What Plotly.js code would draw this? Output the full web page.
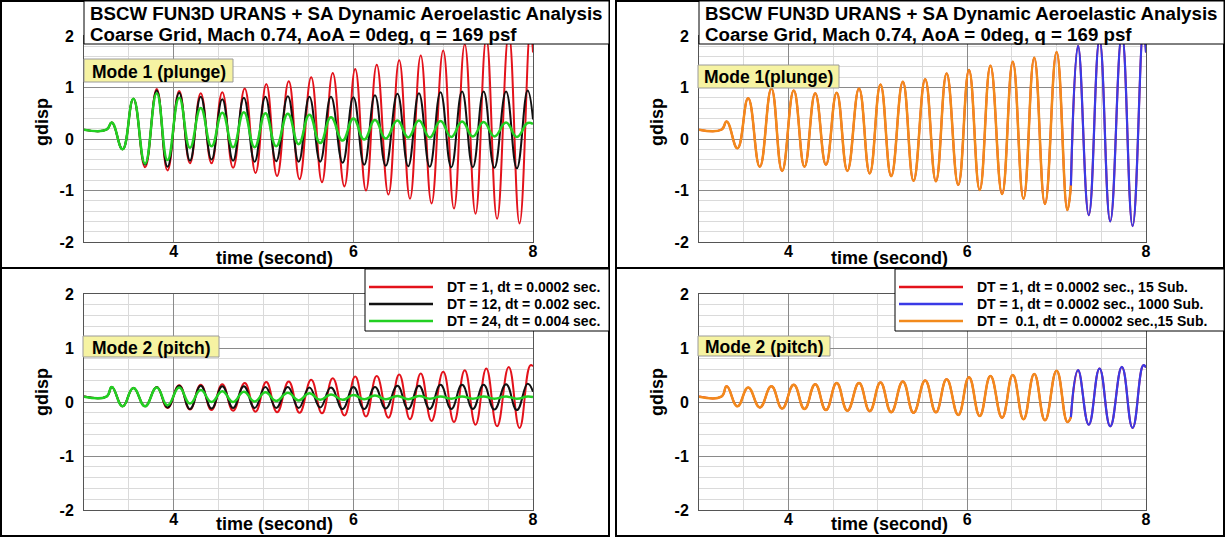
<!DOCTYPE html>
<html>
<head>
<meta charset="utf-8">
<script src="https://cdn.plot.ly/plotly-3.0.1.min.js"></script>
<style>html,body{margin:0;padding:0;background:#fff;}#chart{width:1225px;height:537px;}</style>
</head>
<body>
<div id="chart"></div>
<script>
// ---------- data (extrema of each signal) ----------
const titleLine1 = 'BSCW FUN3D URANS + SA Dynamic Aeroelastic Analysis';
const titleLine2 = 'Coarse Grid, Mach 0.74, AoA = 0deg, q = 169 psf';
const modeLabelsLeft = ['Mode 1 (plunge)', 'Mode 2 (pitch)'];
const modeLabelsRight = ['Mode 1(plunge)', 'Mode 2 (pitch)'];
const xTitle = 'time (second)';
const yTitle = 'gdisp';
const xTickVals = [4, 6, 8];
const xTickText = ['4', '6', '8'];
const yTickVals = [-2, -1, 0, 1, 2];
const yTickText = ['-2', '-1', '0', '1', '2'];
const namesLeft = ['DT = 1, dt = 0.0002 sec.', 'DT = 12, dt = 0.002 sec.', 'DT = 24, dt = 0.004 sec.'];
const namesRight = ['DT = 1, dt = 0.0002 sec., 15 Sub.', 'DT = 1, dt = 0.0002 sec., 1000 Sub.', 'DT =\u00a0\u00a00.1, dt = 0.00002 sec.,15 Sub.'];

const tRed = [3.00, 3.25, 3.31, 3.43, 3.55, 3.68, 3.81, 3.93, 4.06, 4.18, 4.30, 4.42, 4.54, 4.66, 4.79, 4.91, 5.03, 5.15, 5.28, 5.40, 5.53, 5.65, 5.77, 5.90, 6.02, 6.14, 6.26, 6.39, 6.51, 6.63, 6.75, 6.87, 7.00, 7.12, 7.24, 7.36, 7.48, 7.60, 7.73, 7.85, 7.97, 8.00];
const tBlack = [3.00, 3.25, 3.31, 3.43, 3.55, 3.68, 3.81, 3.93, 4.06, 4.18, 4.30, 4.42, 4.54, 4.66, 4.78, 4.90, 5.02, 5.14, 5.27, 5.39, 5.51, 5.63, 5.75, 5.88, 6.00, 6.12, 6.24, 6.36, 6.49, 6.61, 6.73, 6.85, 6.97, 7.09, 7.21, 7.33, 7.45, 7.57, 7.70, 7.82, 7.94, 8.00];
const tOrange = [3.00, 3.25, 3.31, 3.43, 3.55, 3.68, 3.81, 3.93, 4.06, 4.18, 4.30, 4.42, 4.54, 4.66, 4.79, 4.91, 5.03, 5.15, 5.28, 5.40, 5.53, 5.65, 5.77, 5.90, 6.02, 6.14, 6.26, 6.39, 6.51, 6.63, 6.75, 6.87, 7.00, 7.12, 7.16];
const tBlue = [7.16, 7.24, 7.36, 7.48, 7.60, 7.73, 7.85, 7.97, 8.00];

const redPlunge = [0.18, 0.18, 0.32, -0.20, 0.78, -0.55, 0.97, -0.61, 0.93, -0.47, 0.89, -0.47, 0.91, -0.56, 0.98, -0.66, 1.07, -0.72, 1.12, -0.78, 1.20, -0.84, 1.28, -0.92, 1.36, -1.00, 1.44, -1.08, 1.53, -1.16, 1.62, -1.25, 1.72, -1.35, 1.84, -1.45, 1.95, -1.55, 2.05, -1.64, 2.15, 1.68];
const blackPlunge = [0.18, 0.18, 0.32, -0.20, 0.78, -0.50, 0.94, -0.54, 0.90, -0.42, 0.82, -0.40, 0.77, -0.42, 0.80, -0.44, 0.82, -0.43, 0.83, -0.44, 0.82, -0.44, 0.82, -0.46, 0.81, -0.50, 0.85, -0.52, 0.88, -0.53, 0.89, -0.54, 0.91, -0.55, 0.92, -0.55, 0.92, -0.56, 0.92, -0.57, 0.94, 0.38];
const greenPlunge = [0.18, 0.18, 0.32, -0.20, 0.78, -0.48, 0.89, -0.41, 0.80, -0.17, 0.60, -0.14, 0.51, -0.16, 0.52, -0.16, 0.50, -0.14, 0.49, -0.10, 0.47, -0.08, 0.42, -0.03, 0.40, -0.01, 0.37, 0.01, 0.36, 0.03, 0.36, 0.03, 0.35, 0.04, 0.34, 0.05, 0.33, 0.05, 0.32, 0.04, 0.31, 0.29];
const orangePlunge = [0.18, 0.18, 0.34, -0.18, 0.79, -0.54, 0.98, -0.62, 0.94, -0.54, 0.89, -0.50, 0.90, -0.62, 0.98, -0.67, 1.06, -0.72, 1.11, -0.81, 1.16, -0.82, 1.27, -0.89, 1.34, -0.99, 1.42, -1.07, 1.50, -1.16, 1.58, -1.26, 1.69, -1.38, -0.90];
const bluePlunge = [-0.90, 1.81, -1.48, 1.93, -1.60, 2.03, -1.69, 2.13, 1.68];

const redPitch = [0.10, 0.10, 0.28, -0.08, 0.26, -0.08, 0.28, -0.11, 0.31, -0.14, 0.32, -0.15, 0.33, -0.16, 0.35, -0.18, 0.37, -0.19, 0.38, -0.20, 0.41, -0.21, 0.44, -0.25, 0.47, -0.27, 0.48, -0.29, 0.51, -0.32, 0.53, -0.35, 0.56, -0.37, 0.59, -0.42, 0.62, -0.45, 0.65, -0.48, 0.68, 0.66];
const blackPitch = [0.10, 0.10, 0.28, -0.08, 0.26, -0.08, 0.28, -0.10, 0.30, -0.13, 0.30, -0.12, 0.29, -0.11, 0.29, -0.11, 0.28, -0.11, 0.28, -0.11, 0.27, -0.10, 0.27, -0.13, 0.28, -0.13, 0.28, -0.12, 0.30, -0.13, 0.30, -0.13, 0.32, -0.13, 0.32, -0.13, 0.32, -0.14, 0.33, -0.15, 0.34, 0.19];
const greenPitch = [0.10, 0.10, 0.28, -0.08, 0.26, -0.08, 0.27, -0.06, 0.27, -0.03, 0.22, 0.00, 0.20, 0.00, 0.19, 0.01, 0.18, 0.02, 0.17, 0.03, 0.16, 0.04, 0.14, 0.04, 0.13, 0.05, 0.12, 0.05, 0.11, 0.05, 0.11, 0.06, 0.10, 0.06, 0.10, 0.06, 0.10, 0.06, 0.10, 0.06, 0.10, 0.09];
const orangePitch = [0.10, 0.10, 0.29, -0.08, 0.27, -0.10, 0.29, -0.12, 0.32, -0.13, 0.33, -0.15, 0.35, -0.16, 0.35, -0.17, 0.36, -0.19, 0.38, -0.20, 0.40, -0.19, 0.42, -0.24, 0.46, -0.26, 0.48, -0.29, 0.50, -0.32, 0.52, -0.34, 0.58, -0.37, -0.28];
const bluePitch = [-0.28, 0.59, -0.42, 0.62, -0.45, 0.65, -0.48, 0.68, 0.64];

// ---------- styling ----------
const W = 1225, H = 537;
const F = 'Liberation Sans, Arial, Helvetica, sans-serif';
const C = {red: '#e3121b', black: '#111111', green: '#22d022', orange: '#f28a1c', blue: '#3a3ae6'};
const px = v => v / W;
const py = v => 1 - v / H;

function line(x, y, xa, ya, color, width) {
  return {x: x, y: y, xaxis: xa, yaxis: ya, type: 'scatter', mode: 'lines',
    line: {color: color, width: width, shape: 'spline', smoothing: 1.3},
    hoverinfo: 'skip', showlegend: false};
}
const traces = [
  line(tRed, redPlunge, 'x', 'y', C.red, 2),
  line(tBlack, blackPlunge, 'x', 'y', C.black, 2),
  line(tBlack, greenPlunge, 'x', 'y', C.green, 2.5),
  line(tRed, redPitch, 'x2', 'y2', C.red, 2),
  line(tBlack, blackPitch, 'x2', 'y2', C.black, 2),
  line(tBlack, greenPitch, 'x2', 'y2', C.green, 2.5),
  line(tOrange.concat(tBlue), orangePlunge.concat(bluePlunge), 'x3', 'y3', C.red, 2),
  line(tOrange, orangePlunge, 'x3', 'y3', C.orange, 2.5),
  line(tBlue, bluePlunge, 'x3', 'y3', C.blue, 2.2),
  line(tOrange.concat(tBlue), orangePitch.concat(bluePitch), 'x4', 'y4', C.red, 2),
  line(tOrange, orangePitch, 'x4', 'y4', C.orange, 2.5),
  line(tBlue, bluePitch, 'x4', 'y4', C.blue, 2.2)
];

const tickFont = {family: F, size: 16, color: '#000', weight: 'bold'};
function xAx(d0, d1, anchor) {
  return {domain: [px(d0), px(d1)], anchor: anchor, range: [3, 8], tickmode: 'array',
    tickvals: xTickVals, ticktext: xTickText, showgrid: true, gridcolor: '#8a8a8a', gridwidth: 1,
    minor: {tickmode: 'linear', tick0: 0, dtick: 0.5, showgrid: true, gridcolor: '#dadada', gridwidth: 1},
    zeroline: false, showline: true, mirror: true, linecolor: '#555', linewidth: 1,
    ticks: '', ticklabelstandoff: -5, tickfont: tickFont, fixedrange: true};
}
function yAx(top, bottom, anchor) {
  return {domain: [py(bottom), py(top)], anchor: anchor, range: [-2, 2], tickmode: 'array',
    tickvals: yTickVals, ticktext: yTickText, showgrid: true, gridcolor: '#8a8a8a', gridwidth: 1,
    minor: {tickmode: 'linear', tick0: 0, dtick: 0.2, showgrid: true, gridcolor: '#dadada', gridwidth: 1},
    zeroline: false, showline: true, mirror: true, linecolor: '#555', linewidth: 1,
    ticks: 'outside', ticklen: 6, tickcolor: 'rgba(0,0,0,0)', tickfont: tickFont, fixedrange: true};
}

const shapes = [];
const annotations = [];
function rect(x0, y0, x1, y1, fill, lineColor, lw, layer) {
  shapes.push({type: 'rect', xref: 'paper', yref: 'paper', x0: px(x0), x1: px(x1), y0: py(y1), y1: py(y0),
    fillcolor: fill, line: {color: lineColor, width: lw}, layer: layer || 'above'});
}
function seg(x0, y0, x1, y1, color, lw) {
  shapes.push({type: 'line', xref: 'paper', yref: 'paper', x0: px(x0), x1: px(x1), y0: py(y0), y1: py(y1),
    line: {color: color, width: lw}, layer: 'above'});
}
function txt(text, x, y, size, xanchor, angle) {
  annotations.push({xref: 'paper', yref: 'paper', x: px(x), y: py(y), text: '<b>' + text + '</b>',
    showarrow: false, xanchor: xanchor || 'center', yanchor: 'middle', textangle: angle || 0,
    font: {family: F, size: size, color: '#000'}});
}

// panel frames
rect(1, 1, 609, 268, 'rgba(0,0,0,0)', '#000', 2, 'above');
rect(1, 268, 609, 536, 'rgba(0,0,0,0)', '#000', 2, 'above');
rect(616, 1, 1224, 268, 'rgba(0,0,0,0)', '#000', 2, 'above');
rect(616, 268, 1224, 536, 'rgba(0,0,0,0)', '#000', 2, 'above');

const panels = [
  {left: 84, right: 609, names: namesLeft, colors: [C.red, C.black, C.green], legX: 365, lineX0: 369, lineX1: 433, textX: 445, modes: modeLabelsLeft,
   modeBoxes: [[84, 59, 233, 82], [83, 336, 219, 357]]},
  {left: 699, right: 1224, names: namesRight, colors: [C.red, C.blue, C.orange], legX: 895, lineX0: 899, lineX1: 963, textX: 975, modes: modeLabelsRight,
   modeBoxes: [[698, 65, 839, 88], [698, 336, 830, 356]]}
];
panels.forEach(p => {
  rect(p.left, 1, p.right, 44, '#ffffff', '#000', 1);
  txt(titleLine1, p.left + 4, 14, 18.7, 'left');
  txt(titleLine2, p.left + 4, 34, 18.7, 'left');
  p.modeBoxes.forEach((b, i) => {
    rect(b[0], b[1], b[2], b[3], '#f6f3a2', '#9a9a9a', 1);
    txt(p.modes[i], (b[0] + b[2]) / 2, (b[1] + b[3]) / 2 + 1, 17.5, 'center');
  });
  txt(xTitle, p.left + 190, 258, 18, 'center');
  txt(xTitle, p.left + 190, 524, 18, 'center');
  txt(yTitle, p.left - 42, 122, 18, 'center', -90);
  txt(yTitle, p.left - 42, 392, 18, 'center', -90);
  rect(p.legX, 269, p.right, 331, '#ffffff', '#000', 1);
  const rows = [287, 304, 321];
  p.names.forEach((n, i) => {
    seg(p.lineX0, rows[i], p.lineX1, rows[i], p.colors[i], 2.5);
    txt(n, p.textX, rows[i], 14, 'left');
  });
});

const layout = {
  width: W, height: H, margin: {l: 0, r: 0, t: 0, b: 0}, showlegend: false,
  paper_bgcolor: '#fff', plot_bgcolor: '#fff', font: {family: F, color: '#000'},
  xaxis: xAx(84, 533, 'y'), yaxis: yAx(36, 242, 'x'),
  xaxis2: xAx(84, 533, 'y2'), yaxis2: yAx(294, 510, 'x2'),
  xaxis3: xAx(699, 1146, 'y3'), yaxis3: yAx(36, 242, 'x3'),
  xaxis4: xAx(699, 1146, 'y4'), yaxis4: yAx(294, 510, 'x4'),
  shapes: shapes, annotations: annotations
};
Plotly.newPlot('chart', traces, layout, {staticPlot: true, displayModeBar: false});
</script>
</body>
</html>
